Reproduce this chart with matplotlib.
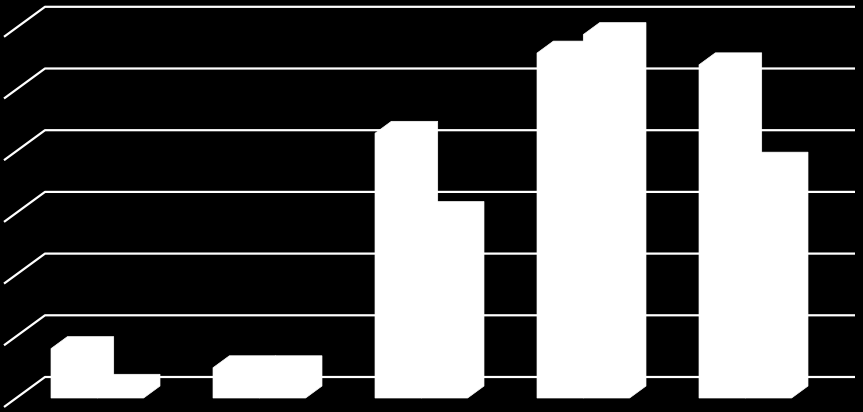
import numpy as np
import matplotlib
matplotlib.use('Agg')
import matplotlib.pyplot as plt
from matplotlib.patches import Polygon

categories = ['A', 'B', 'C', 'D', 'E']
series_1 = [0.80, 0.49, 4.29, 5.59, 5.40]
series_2 = [0.19, 0.49, 2.99, 5.89, 3.79]
grid_values = [0, 1, 2, 3, 4, 5, 6]

# oblique 3D look: depth shift (in data units) for the full floor depth
depth_dx = 41 / 162
depth_dy = 30 / 61.7
bar_w = 1 / 3.5
gap = 0.75 * bar_w
d_front, d_back = 0.3, 0.7


def proj(x, v, d):
    return (x + depth_dx * d, v + depth_dy * d)


fig = plt.figure(figsize=(8.63, 4.12), dpi=100, facecolor='black')
ax = fig.add_axes([0, 0, 1, 1])
ax.set_facecolor('black')
ax.set_xlim(-4 / 162, 859 / 162)
ax.set_ylim(-5 / 61.7, 407 / 61.7)
ax.axis('off')

n = len(categories)
for v in grid_values:
    x0, y0 = proj(0, v, 0)
    x1, y1 = proj(0, v, 1)
    x2, y2 = proj(n, v, 1)
    ax.plot([x0, x1, x2], [y0, y1, y2], color='white', lw=1.6,
            solid_capstyle='butt', zorder=1)


def bar3d(x, h):
    # outline of the box seen from the front-right-top, all white
    xl, xr = x, x + bar_w
    pts = [proj(xl, 0, d_front), proj(xr, 0, d_front),
           proj(xr, 0, d_back), proj(xr, h, d_back),
           proj(xl, h, d_back), proj(xl, h, d_front)]
    ax.add_patch(Polygon(pts, closed=True, facecolor='white',
                         edgecolor='white', lw=0.5, zorder=3))


for i in range(n):
    x = i + gap
    bar3d(x, series_1[i])
    bar3d(x + bar_w, series_2[i])

fig.savefig('out.png', dpi=100, facecolor='black')
